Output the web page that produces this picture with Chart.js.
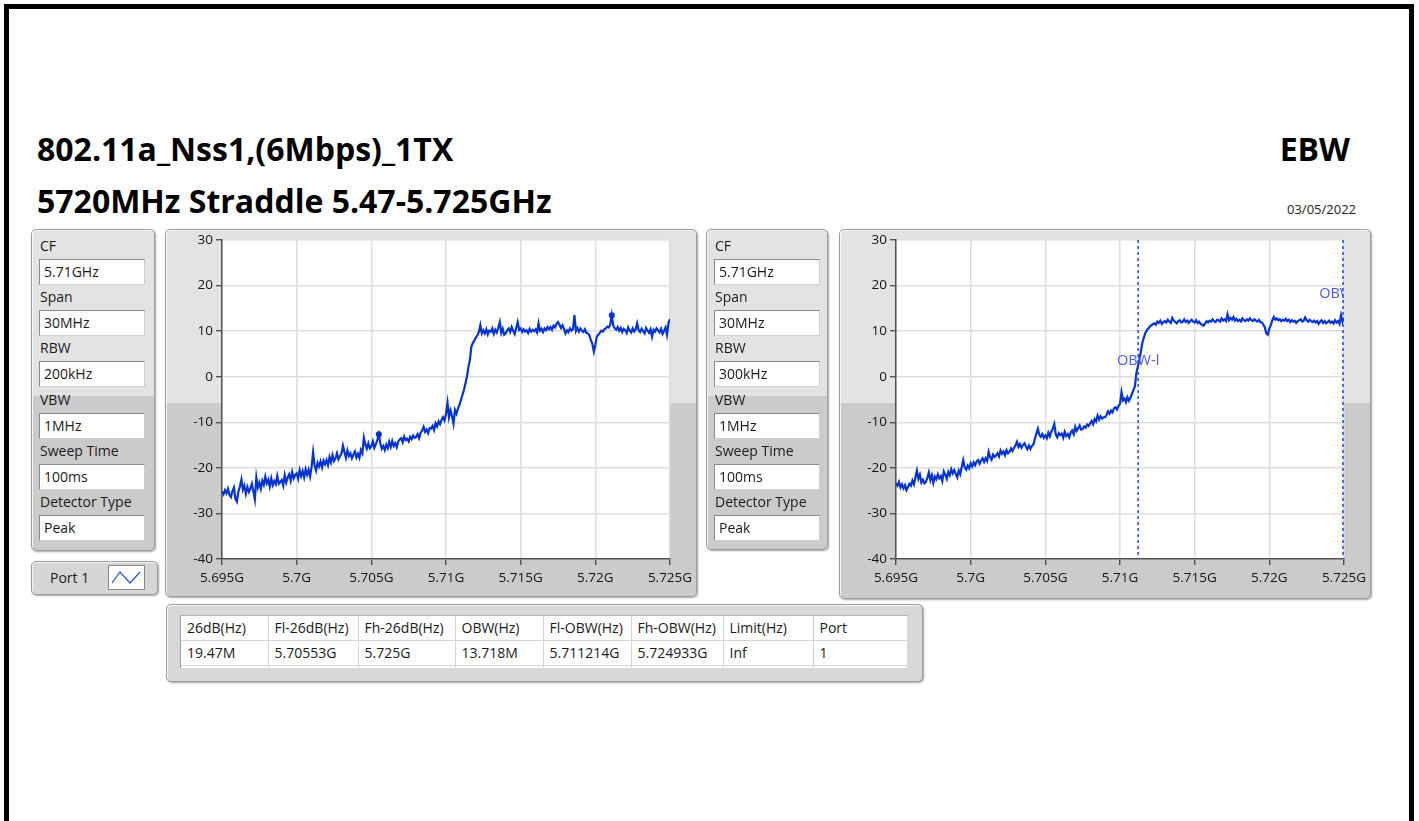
<!DOCTYPE html>
<html>
<head>
<meta charset="utf-8">
<title>802.11a_Nss1 EBW 5720MHz</title>
<script src="https://cdn.jsdelivr.net/npm/chart.js@4.4.1/dist/chart.umd.min.js"></script>
<style>
  html, body { margin:0; padding:0; background:#fff; }
  body { position:relative; width:1419px; height:821px; overflow:hidden;
         font-family:"Open Sans","Noto Sans",sans-serif; color:#1a1a1a; }
  .frame { position:absolute; left:4px; top:4px; width:1410px; height:840px;
           border:5px solid #000; box-sizing:border-box; }
  .title { position:absolute; font-weight:700; font-size:32px; line-height:36px;
           white-space:nowrap; color:#000; }
  .date { position:absolute; font-size:13px; line-height:16px; color:#222; }
  .panel { position:absolute; box-sizing:border-box; border:1px solid #9c9c9c; border-radius:5px;
           background:linear-gradient(#e3e3e3 0, #e3e3e3 var(--split), #cbcbcb var(--split), #cbcbcb 100%);
           box-shadow:1px 1px 2px rgba(0,0,0,.35), inset 1px 1px 0 #f6f6f6; }
  .lbl { position:absolute; left:8px; font-size:14px; line-height:20px; color:#1a1a1a; white-space:nowrap; }
  .val { position:absolute; left:7px; width:106px; height:26px; box-sizing:border-box; background:#fff;
         border:1px solid #8a8a8a; border-right-color:#cfcfcf; border-bottom-color:#cfcfcf;
         font-size:14px; line-height:23px; padding-left:4px; white-space:nowrap; }
  canvas { position:absolute; }
  .legend { position:absolute; left:31px; top:561px; width:127px; height:34px; box-sizing:border-box;
            border:1px solid #9c9c9c; border-radius:5px; background:#d6d6d6;
            box-shadow:1px 1px 2px rgba(0,0,0,.35), inset 1px 1px 0 #f3f3f3; }
  .legend span { position:absolute; left:18px; top:6px; font-size:14px; line-height:20px; }
  .legend svg { position:absolute; left:76px; top:3px; }
  .tbl { position:absolute; left:13px; top:10px; width:728px; height:53px; overflow:hidden; background:#fff;
         border-left:1px solid #9a9a9a; border-top:1px solid #b5b5b5; box-sizing:border-box; }
  table { border-collapse:collapse; table-layout:fixed; font-size:14px; }
  td { height:24px; padding:0 0 0 6px; border-right:1px solid #d4d4d4; border-bottom:1px solid #d4d4d4;
       white-space:nowrap; overflow:hidden; line-height:22px; }
</style>
</head>
<body>
<div class="frame"></div>

<div class="title" style="left:37px;top:131px;">802.11a_Nss1,(6Mbps)_1TX</div>
<div class="title" style="right:69px;top:131px;">EBW</div>
<div class="title" style="left:37px;top:183px;">5720MHz Straddle 5.47-5.725GHz</div>
<div class="date" style="right:63px;top:201px;">03/05/2022</div>

<div id="setL" class="panel" style="left:31px;top:229px;width:124px;height:322px;--split:166px;"></div>
<div class="legend"><span>Port 1</span>
  <svg width="37" height="25" viewBox="0 0 37 25">
    <rect x="0.5" y="0.5" width="36" height="24" fill="#fff" stroke="#8a8a8a"/>
    <polyline points="4,18 12,7 22,18 32,7" fill="none" stroke="#2a4fe0" stroke-width="1.2"/>
  </svg>
</div>
<div class="panel" style="left:165px;top:229px;width:532px;height:368px;--split:173px;"></div>
<canvas id="chartL" width="540" height="372" style="left:165px;top:229px;"></canvas>

<div id="setR" class="panel" style="left:706px;top:229px;width:122px;height:321px;--split:166px;"></div>
<div class="panel" style="left:839px;top:229px;width:532px;height:370px;--split:173px;"></div>
<canvas id="chartR" width="545" height="372" style="left:839px;top:229px;"></canvas>

<div class="panel" style="left:166px;top:604px;width:757px;height:78px;--split:100%;background:#d8d8d8;">
  <div class="tbl"><table id="resTable"></table></div>
</div>

<script>
// ---- measurement settings shown beside each trace ----
const settingNames = ['CF', 'Span', 'RBW', 'VBW', 'Sweep Time', 'Detector Type'];
const settingsLeft = ['5.71GHz', '30MHz', '200kHz', '1MHz', '100ms', 'Peak'];
const settingsRight = ['5.71GHz', '30MHz', '300kHz', '1MHz', '100ms', 'Peak'];

// ---- result table ----
const resultHeaders = ['26dB(Hz)', 'Fl-26dB(Hz)', 'Fh-26dB(Hz)', 'OBW(Hz)', 'Fl-OBW(Hz)', 'Fh-OBW(Hz)', 'Limit(Hz)', 'Port'];
const resultValues = ['19.47M', '5.70553G', '5.725G', '13.718M', '5.711214G', '5.724933G', 'Inf', '1'];

// ---- axes ----
const freqTicksMHz = [5695, 5700, 5705, 5710, 5715, 5720, 5725];
const freqTickLabels = ['5.695G', '5.7G', '5.705G', '5.71G', '5.715G', '5.72G', '5.725G'];
const levelTicks = [30, 20, 10, 0, -10, -20, -30, -40];
const levelTickLabels = ['30', '20', '10', '0', '-10', '-20', '-30', '-40'];

// ---- sweep grid: 301 points, 5695 MHz to 5725 MHz ----
const sweepStartMHz = 5695;
const sweepStepMHz = 0.1;

// Port 1 trace, RBW 200 kHz (dBm)
const traceRbw200k = [
  -25.2, -25.8, -24.9, -25.6, -24.6, -25.9, -26.4, -25.1, -24.3, -26.8,
  -27.4, -25.2, -24.1, -22.6, -24.8, -23.9, -25.7, -24.2, -25.3, -24.6,
  -23.5, -25.1, -26.9, -22.1, -24.3, -23.2, -24.6, -22.8, -23.7, -21.9,
  -23.4, -22.6, -24.1, -22.3, -23.8, -22.9, -23.6, -21.8, -23.5, -23.1,
  -22.7, -23.9, -21.6, -23.2, -22.1, -21.4, -22.8, -20.9, -22.3, -21.6,
  -21.2, -22.4, -20.5, -21.8, -20.7, -22.1, -20.3, -21.5, -20.4, -21.9,
  -19.8, -16.6, -19.5, -20.6, -18.9, -19.7, -18.6, -19.9, -18.4, -19.2,
  -18.3, -19.4, -17.6, -18.8, -17.2, -18.5, -17.9, -16.8, -18.1, -17.4,
  -16.9, -15.1, -16.5, -17.8, -16.2, -17.4, -16.8, -17.9, -17.1, -16.4,
  -17.7, -16.9, -17.8, -16.1, -16.8, -13.4, -14.9, -15.8, -14.6, -15.7,
  -15.3, -14.2, -15.6, -14.8, -13.9, -12.7, -14.6, -15.8, -15.2, -16.1,
  -14.9, -15.7, -14.3, -15.4, -14.1, -15.2, -14.6, -15.5, -14.2, -13.8,
  -13.5, -14.4, -13.1, -13.9, -13.6, -14.2, -13.2, -13.7, -12.9, -13.4,
  -13.2, -12.6, -13.5, -12.3, -11.8, -11.0, -12.1, -11.6, -12.4, -11.3,
  -11.4, -10.8, -11.7, -10.2, -10.9, -9.8, -10.4, -9.5, -8.9, -9.6,
  -8.2, -5.7, -8.9, -7.4, -8.6, -10.3, -7.3, -8.1, -7.0, -6.2,
  -5.1, -4.0, -2.9, -1.5, 0.0, 2.1, 3.7, 6.6, 7.4, 8.0,
  8.6, 9.1, 9.8, 11.3, 9.5, 10.2, 9.5, 10.4, 9.3, 10.1,
  9.9, 10.6, 9.4, 10.3, 9.7, 10.8, 12.0, 9.6, 10.5, 9.2,
  9.5, 10.2, 10.6, 9.8, 10.9, 10.1, 9.4, 10.7, 12.0, 10.3,
  10.6, 9.8, 10.4, 9.9, 10.2, 9.6, 10.5, 9.9, 10.3, 10.0,
  10.4, 9.7, 11.7, 10.1, 10.5, 9.8, 10.6, 10.2, 10.9, 10.4,
  10.9, 10.3, 11.2, 10.8, 11.6, 12.0, 11.4, 10.7, 11.3, 10.5,
  9.5, 10.2, 9.8, 10.6, 10.1, 10.4, 13.5, 10.0, 10.7, 9.9,
  10.6, 10.1, 9.8, 10.4, 9.6, 9.5, 9.1, 8.0, 7.2, 5.5,
  7.0, 8.8, 9.2, 9.6, 10.1, 9.9, 10.4, 10.6, 11.0, 10.8,
  11.4, 13.5, 11.2, 10.6, 10.3, 10.9, 10.1, 10.7, 9.8, 10.5,
  10.2, 9.6, 10.8, 10.1, 9.7, 10.6, 9.9, 10.4, 11.7, 10.2,
  9.8, 10.5, 10.0, 9.5, 10.7, 10.1, 9.6, 10.4, 8.8, 10.3,
  9.9, 10.6, 10.2, 9.7, 10.5, 9.4, 10.1, 10.8, 9.2, 11.9,
  12.6
];

// Port 1 trace, RBW 300 kHz (dBm)
const traceRbw300k = [
  -23.4, -23.9, -23.1, -24.3, -23.6, -24.5, -23.8, -24.9, -24.2, -23.5,
  -23.9, -22.8, -23.6, -22.1, -20.6, -22.4, -21.5, -23.2, -22.6, -23.4,
  -23.1, -22.2, -21.0, -22.7, -21.6, -23.3, -21.9, -22.5, -21.4, -22.3,
  -21.8, -22.9, -20.8, -21.5, -22.4, -20.9, -21.6, -20.3, -21.2, -20.5,
  -21.3, -22.1, -20.6, -21.4, -19.8, -18.3, -19.9, -20.4, -19.5, -20.1,
  -19.0, -19.7, -18.8, -19.4, -18.6, -18.3, -19.1, -18.4, -17.9, -18.7,
  -17.9, -18.5, -16.5, -17.6, -18.2, -17.1, -17.6, -17.3, -16.8, -17.5,
  -16.2, -16.9, -16.4, -17.2, -16.1, -16.8, -16.5, -15.7, -16.3, -15.6,
  -15.1, -14.3, -15.4, -14.8, -15.6, -15.0, -14.6, -15.3, -15.9, -15.1,
  -15.8, -15.2, -14.9, -13.6, -12.5, -11.4, -12.8, -13.2, -12.6, -13.4,
  -12.9, -13.5, -12.3, -13.1, -12.0, -11.4, -10.4, -12.7, -13.3, -12.4,
  -12.8, -12.5, -13.4, -12.1, -13.0, -12.6, -13.3, -12.2, -11.8, -12.6,
  -11.0, -11.9, -11.3, -10.7, -11.6, -11.5, -10.9, -11.2, -10.5, -10.8,
  -10.2, -9.7, -10.4, -9.3, -9.8, -8.5, -9.4, -8.7, -9.2, -8.9,
  -8.9, -8.4, -7.6, -8.1, -7.4, -7.8, -6.9, -6.7, -7.2, -6.4,
  -6.0, -3.4, -5.2, -4.8, -5.6, -4.5, -5.3, -4.6, -3.8, -2.9,
  -2.1, 0.9, 2.3, 3.8, 5.6, 7.5, 8.6, 9.6, 10.2, 10.6,
  11.0, 11.3, 11.5, 11.7, 11.4, 12.1, 11.8, 12.3, 11.6, 12.0,
  12.2, 11.9, 12.5, 12.1, 11.8, 12.9, 12.3, 12.0, 11.7, 12.2,
  12.4, 11.9, 12.1, 12.6, 12.0, 12.3, 11.8, 12.2, 12.5, 12.1,
  11.9, 12.4, 11.8, 12.1, 11.6, 11.4, 11.2, 11.7, 12.2, 11.9,
  12.3, 12.1, 12.6, 12.2, 12.0, 12.5, 12.4, 12.1, 12.8, 12.3,
  12.6, 12.2, 13.7, 12.4, 12.9, 12.5, 13.1, 12.3, 12.7, 12.2,
  12.5, 12.1, 12.8, 12.4, 12.2, 12.6, 12.3, 12.8, 12.4, 12.2,
  12.6, 12.3, 12.1, 12.5, 12.0, 11.9, 11.4, 10.8, 9.5, 9.2,
  10.6, 11.3, 12.4, 13.1, 12.5, 12.8, 12.4, 12.6, 12.2, 12.5,
  12.3, 12.7, 12.2, 12.5, 12.0, 12.4, 12.1, 12.3, 11.8, 12.2,
  12.4, 12.6, 12.1, 12.3, 13.0, 12.4, 12.1, 12.5, 12.2, 12.0,
  12.3, 11.9, 12.2, 11.6, 12.1, 12.4, 11.8, 12.2, 11.7, 12.0,
  12.3, 11.8, 12.1, 11.7, 12.4, 11.9, 12.2, 11.6, 13.5, 12.1,
  12.9
];

// peak markers on the 200 kHz trace
const markerFreqsMHz = [5705.5, 5721.1];
const markerLevels = [-12.6, 13.5];

// occupied-bandwidth edges (Fl-OBW, Fh-OBW) and their captions
const obwEdgesMHz = [5711.214, 5724.933];
const obwCaptions = ['OBW-l', 'OBW-h'];
const obwCaptionLevels = [3.4, 18.1];

// ---- settings panels ----
function fillSettings(id, values) {
  const host = document.getElementById(id);
  settingNames.forEach((name, i) => {
    const l = document.createElement('div');
    l.className = 'lbl'; l.textContent = name; l.style.top = (6 + i * 51.2) + 'px';
    const v = document.createElement('div');
    v.className = 'val'; v.textContent = values[i]; v.style.top = (29 + i * 51.2) + 'px';
    host.appendChild(l); host.appendChild(v);
  });
}
fillSettings('setL', settingsLeft);
fillSettings('setR', settingsRight);

// ---- results table ----
(function () {
  const widths = [87, 90, 97, 88, 88, 92, 90, 94];
  const t = document.getElementById('resTable');
  const cg = document.createElement('colgroup');
  widths.forEach(w => { const c = document.createElement('col'); c.style.width = w + 'px'; cg.appendChild(c); });
  t.appendChild(cg);
  [resultHeaders, resultValues, resultHeaders.map(() => '')].forEach(row => {
    const tr = document.createElement('tr');
    row.forEach(txt => { const td = document.createElement('td'); td.textContent = txt; tr.appendChild(td); });
    t.appendChild(tr);
  });
})();

// ---- charts ----
const traceColor = '#0434cf';
const tickFont = { family: 'Open Sans', size: 13.5 };

const plotBackground = {
  id: 'plotBackground',
  beforeDraw(chart) {
    const a = chart.chartArea, g = chart.ctx;
    g.save();
    g.fillStyle = '#ffffff';
    g.fillRect(a.left, a.top, a.right - a.left, a.bottom - a.top);
    g.restore();
  }
};

const edgeCaptions = {
  id: 'edgeCaptions',
  afterDatasetsDraw(chart, args, opts) {
    if (!opts.edges) return;
    const a = chart.chartArea, g = chart.ctx;
    const xs = chart.scales.x, ys = chart.scales.y;
    g.save();
    g.beginPath();
    g.rect(a.left, a.top, a.right - a.left, a.bottom - a.top);
    g.clip();
    g.font = '14.5px "Open Sans"';
    g.fillStyle = '#4a5be3';
    g.textAlign = 'center';
    g.textBaseline = 'middle';
    opts.edges.forEach((f, i) => g.fillText(opts.captions[i], xs.getPixelForValue(f), ys.getPixelForValue(opts.levels[i])));
    g.restore();
  }
};

function spectrumChart(canvasId, trace, extraSets, captions) {
  const canvas = document.getElementById(canvasId);
  const pts = trace.map((v, i) => ({ x: sweepStartMHz + i * sweepStepMHz, y: v }));
  const datasets = [{
    data: pts, showLine: true, borderColor: traceColor, borderWidth: 2.2,
    pointRadius: 0, tension: 0, order: 2
  }].concat(extraSets);
  return new Chart(canvas, {
    type: 'scatter',
    data: { datasets },
    options: {
      responsive: false, animation: false, events: [],
      layout: { padding: { left: 0, top: 11, right: canvas.width - 57 - 448, bottom: 0 } },
      plugins: { legend: { display: false }, tooltip: { enabled: false }, edgeCaptions: captions || {} },
      scales: {
        x: {
          type: 'linear', min: 5695, max: 5725,
          afterBuildTicks(s) { s.ticks = freqTicksMHz.map(v => ({ value: v })); },
          afterFit(s) { s.height = 372 - 330; s.paddingLeft = 0; s.paddingRight = 0; },
          grid: { color: '#dedede', lineWidth: 1.5, tickColor: '#3c3c3c', tickLength: 6, tickWidth: 1.2 },
          border: { color: '#505050', width: 1.5 },
          ticks: { font: tickFont, color: '#141414', padding: 5, maxRotation: 0, autoSkip: false,
                   callback: (v) => freqTickLabels[freqTicksMHz.indexOf(v)] }
        },
        y: {
          type: 'linear', min: -40, max: 30,
          afterBuildTicks(s) { s.ticks = levelTicks.map(v => ({ value: v })); },
          afterFit(s) { s.width = 57; s.paddingTop = 0; s.paddingBottom = 0; },
          grid: { color: '#dedede', lineWidth: 1.5, tickColor: '#3c3c3c', tickLength: 6, tickWidth: 1.2 },
          border: { color: '#505050', width: 1.5 },
          ticks: { font: tickFont, color: '#141414', padding: 3, autoSkip: false,
                   callback: (v) => levelTickLabels[levelTicks.indexOf(v)] }
        }
      }
    },
    plugins: [plotBackground, edgeCaptions]
  });
}

spectrumChart('chartL', traceRbw200k, [{
  data: markerFreqsMHz.map((f, i) => ({ x: f, y: markerLevels[i] })),
  pointRadius: 3, pointBackgroundColor: traceColor, pointBorderWidth: 0, showLine: false, order: 1
}]);

spectrumChart('chartR', traceRbw300k, obwEdgesMHz.map(f => ({
  data: [{ x: f, y: 30 }, { x: f, y: -40 }],
  showLine: true, borderColor: '#1f45dc', borderWidth: 1.5, borderDash: [3, 3],
  pointRadius: 0, order: 1
})), { edges: obwEdgesMHz, captions: obwCaptions, levels: obwCaptionLevels });
</script>
</body>
</html>
